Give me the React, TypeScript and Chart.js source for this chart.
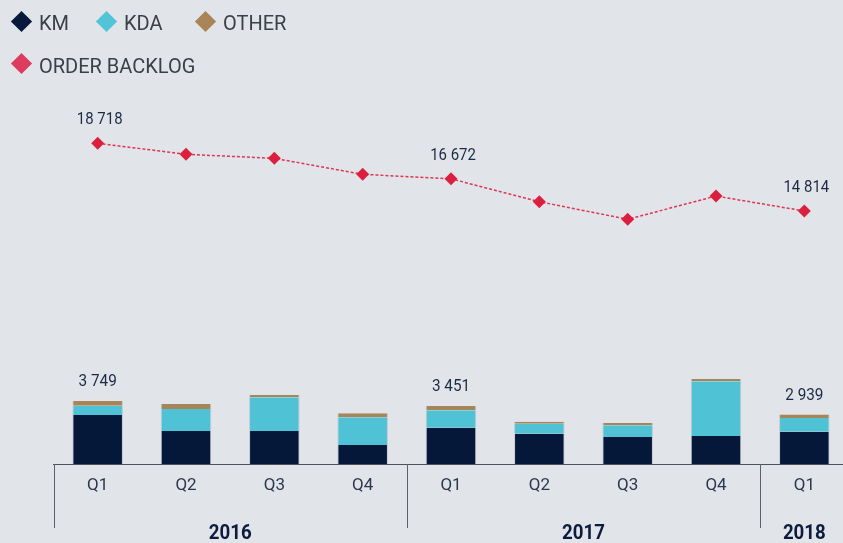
import React, { useEffect, useRef } from 'react';
import { Chart, registerables } from 'chart.js';
Chart.register(...registerables);

const quarters = ['Q1', 'Q2', 'Q3', 'Q4', 'Q1', 'Q2', 'Q3', 'Q4', 'Q1'];
const years = ['2016', '2017', '2018'];
const yearSpans = [4, 4, 1];
const kmValues = [2917, 1964, 1964, 1131, 2162, 1806, 1607, 1667, 1920];
const kdaValues = [555, 1310, 2004, 1647, 1032, 595, 694, 3254, 820];
const otherValues = [277, 298, 139, 238, 257, 119, 139, 139, 199];
const backlogValues = [18718, 18084, 17853, 16930, 16672, 15350, 14335, 15679, 14814];
const labeledIndices = [0, 4, 8];

const seriesNames = ['KM', 'KDA', 'OTHER', 'ORDER BACKLOG'];
const seriesColors = ['#06183a', '#50c2d5', '#a68559', '#dc1f3e'];
const legendColors = ['#071a3c', '#52c4d7', '#a88457', '#dc3d5f'];

const BG = '#e1e5ea';
const FONT = 'Roboto, "Noto Sans", sans-serif';

const fmt = (n: number) => String(n).replace(/\B(?=(\d{3})+(?!\d))/g, ' ');

function drawScaledText(ctx: CanvasRenderingContext2D, text: string, x: number, y: number, font: string, color: string, sx: number) {
  ctx.save();
  ctx.translate(x, y);
  ctx.scale(sx, 1);
  ctx.font = font;
  ctx.fillStyle = color;
  ctx.textAlign = 'center';
  ctx.textBaseline = 'alphabetic';
  ctx.fillText(text, 0, 0);
  ctx.restore();
}

const valueLabelPlugin = {
  id: 'valueLabels',
  afterDatasetsDraw(chart: any) {
    const ctx = chart.ctx;
    const topMeta = chart.getDatasetMeta(2);
    const lineMeta = chart.getDatasetMeta(3);
    labeledIndices.forEach((i) => {
      const total = kmValues[i] + kdaValues[i] + otherValues[i];
      const bar = topMeta.data[i];
      drawScaledText(ctx, fmt(total), bar.x, bar.y - 15, `17px ${FONT}`, '#1d2a44', 0.9);
      const pt = lineMeta.data[i];
      drawScaledText(ctx, fmt(backlogValues[i]), pt.x + 2, pt.y - 19, `17px ${FONT}`, '#1d2a44', 0.88);
    });
  },
};

const yearGroupPlugin = {
  id: 'yearGroups',
  afterDraw(chart: any) {
    const ctx = chart.ctx;
    const xs = chart.scales.x;
    const area = chart.chartArea;
    let start = 0;
    ctx.save();
    years.forEach((yr, g) => {
      const end = start + yearSpans[g] - 1;
      const left = start === 0 ? area.left : (xs.getPixelForValue(start - 1) + xs.getPixelForValue(start)) / 2;
      const right = end === quarters.length - 1 ? area.right : (xs.getPixelForValue(end) + xs.getPixelForValue(end + 1)) / 2;
      ctx.strokeStyle = '#5b6068';
      ctx.lineWidth = 1;
      ctx.beginPath();
      const lx = Math.round(left) + 0.5;
      ctx.moveTo(lx, area.bottom);
      ctx.lineTo(lx, area.bottom + 64);
      ctx.stroke();
      drawScaledText(ctx, yr, (left + right) / 2, area.bottom + 74.5, `bold 21px ${FONT}`, '#0d1b3d', 0.89);
      start = end + 1;
    });
    ctx.restore();
  },
};

export default function App() {
  const canvasRef = useRef<HTMLCanvasElement | null>(null);

  useEffect(() => {
    if (!canvasRef.current) return;
    const barCommon = {
      type: 'bar' as const,
      stack: 'a',
      yAxisID: 'y',
      order: 1,
      barPercentage: 0.572,
      categoryPercentage: 1,
      borderWidth: { left: 1, right: 1, top: 0, bottom: 0 },
      borderColor: 'rgba(190,197,206,0.9)',
      borderSkipped: false,
    };
    const chart = new Chart(canvasRef.current, {
      data: {
        labels: quarters,
        datasets: [
          { ...barCommon, label: seriesNames[0], data: kmValues, backgroundColor: seriesColors[0] },
          { ...barCommon, label: seriesNames[1], data: kdaValues, backgroundColor: seriesColors[1] },
          { ...barCommon, label: seriesNames[2], data: otherValues, backgroundColor: seriesColors[2] },
          {
            type: 'line',
            label: seriesNames[3],
            data: backlogValues,
            yAxisID: 'y2',
            order: 0,
            borderColor: '#e0354f',
            borderWidth: 1.5,
            borderDash: [3, 2],
            tension: 0,
            pointStyle: 'rectRot',
            pointRadius: 6.5,
            pointBackgroundColor: seriesColors[3],
            pointBorderWidth: 0,
            fill: false,
          } as any,
        ],
      },
      options: {
        responsive: false,
        animation: false,
        devicePixelRatio: 1,
        layout: { padding: { left: 53.5, right: 2.5, top: 100, bottom: 0 } },
        plugins: { legend: { display: false }, tooltip: { enabled: false } },
        scales: {
          x: {
            stacked: true,
            grid: { display: false, drawTicks: false },
            border: { display: true, color: '#4d525a', width: 1 },
            ticks: { font: { family: FONT, size: 17 }, color: '#2c3850', padding: 12, maxRotation: 0 },
            afterFit: (s: any) => { s.height = 79; },
          },
          y: { stacked: true, display: false, min: 0, max: 21660 },
          y2: { display: false, min: 225, max: 21216, position: 'right' },
        },
      } as any,
      plugins: [valueLabelPlugin, yearGroupPlugin],
    } as any);
    return () => chart.destroy();
  }, []);

  const legendPos = [
    { left: 11, row: 0 },
    { left: 96, row: 0 },
    { left: 195, row: 0 },
    { left: 11, row: 1 },
  ];
  const rowCenter = [21, 63.5];

  return (
    <div style={{ position: 'fixed', left: 0, top: 0, width: 843, height: 543, overflow: 'hidden', background: BG }}>
      <canvas ref={canvasRef} width={855} height={543} style={{ position: 'absolute', left: 0, top: 0, width: 855, height: 543 }} />
      {seriesNames.map((name, i) => {
        const p = legendPos[i];
        const cy = rowCenter[p.row];
        return (
          <React.Fragment key={name}>
            <div
              style={{
                position: 'absolute',
                left: p.left + 10.5 - 7.5,
                top: cy - 7.5,
                width: 15,
                height: 15,
                background: legendColors[i],
                transform: 'rotate(45deg)',
              }}
            />
            <div
              style={{
                position: 'absolute',
                left: p.left + 28,
                top: cy - 7.7,
                fontFamily: FONT,
                fontSize: 20,
                lineHeight: '20px',
                color: '#3b3f46',
                whiteSpace: 'nowrap',
              }}
            >
              {name}
            </div>
          </React.Fragment>
        );
      })}
    </div>
  );
}
